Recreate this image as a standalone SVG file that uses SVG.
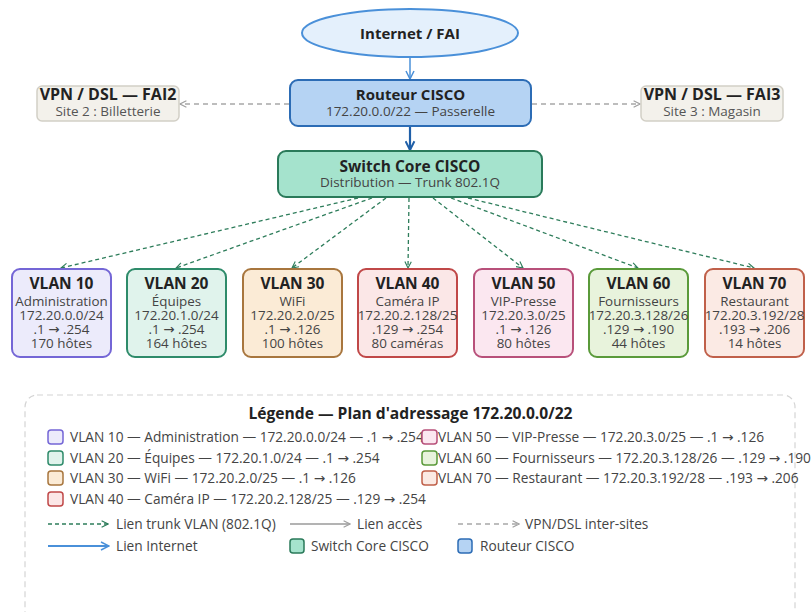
<svg xmlns="http://www.w3.org/2000/svg" width="811" height="612" viewBox="0 0 811 612">
<defs>
<style>
text{font-family:"Open Sans","Noto Sans","DejaVu Sans",sans-serif;}
.t{font-size:15px;font-weight:700;fill:#222;text-anchor:middle;}
.s{font-size:13.5px;fill:#444;text-anchor:middle;}
.vt{font-size:15.5px;font-weight:700;fill:#222;text-anchor:middle;}
.vs{font-size:13.4px;fill:#444;text-anchor:middle;}
.lg{font-size:13.7px;fill:#444;}
.trunk{stroke:#2e7d5b;stroke-width:1.3;stroke-dasharray:4 3;fill:none;}
.vpn{stroke:#a8a8a8;stroke-width:1.4;stroke-dasharray:5 4;fill:none;}
.vbox{stroke-width:2;}
</style>
<marker id="ag" viewBox="0 0 10 10" refX="9" refY="5" markerWidth="8" markerHeight="8" orient="auto" markerUnits="userSpaceOnUse"><path d="M1,1 L9,5 L1,9" fill="none" stroke="#2e7d5b" stroke-width="1.4"/></marker>
<marker id="agr" viewBox="0 0 10 10" refX="9" refY="5" markerWidth="8" markerHeight="8" orient="auto" markerUnits="userSpaceOnUse"><path d="M1,1 L9,5 L1,9" fill="none" stroke="#a0a0a0" stroke-width="1.4"/></marker>
<marker id="ab" viewBox="0 0 10 10" refX="9" refY="5" markerWidth="10" markerHeight="10" orient="auto" markerUnits="userSpaceOnUse"><path d="M1,1 L9,5 L1,9" fill="none" stroke="#4a90d9" stroke-width="1.5"/></marker>
<marker id="adb" viewBox="0 0 10 10" refX="9" refY="5" markerWidth="11" markerHeight="11" orient="auto" markerUnits="userSpaceOnUse"><path d="M1,1 L9,5 L1,9" fill="none" stroke="#1f5fa8" stroke-width="1.8"/></marker>
</defs>
<rect width="811" height="612" fill="#ffffff"/>

<g id="connectors">
<line x1="410" y1="57" x2="410" y2="79" stroke="#4a90d9" stroke-width="1.5" marker-end="url(#ab)"/>
<line x1="410" y1="127" x2="410" y2="150" stroke="#1f5fa8" stroke-width="2.2" marker-end="url(#adb)"/>
<line x1="289" y1="104" x2="180" y2="104" class="vpn" marker-end="url(#agr)"/>
<line x1="532" y1="104" x2="640" y2="104" class="vpn" marker-end="url(#agr)"/>
<line x1="358" y1="198" x2="61" y2="268" class="trunk" marker-end="url(#ag)"/>
<line x1="372" y1="198" x2="176" y2="268" class="trunk" marker-end="url(#ag)"/>
<line x1="386" y1="198" x2="292" y2="268" class="trunk" marker-end="url(#ag)"/>
<line x1="409" y1="198" x2="408" y2="268" class="trunk" marker-end="url(#ag)"/>
<line x1="433" y1="198" x2="523" y2="268" class="trunk" marker-end="url(#ag)"/>
<line x1="451" y1="198" x2="638" y2="268" class="trunk" marker-end="url(#ag)"/>
<line x1="468" y1="198" x2="754" y2="268" class="trunk" marker-end="url(#ag)"/>
</g>

<g id="internet">
<ellipse cx="410" cy="33" rx="108" ry="24" fill="#e4f0fc" stroke="#4a90d9" stroke-width="2"/>
<text x="410" y="38.5" class="t">Internet / FAI</text>
</g>

<g id="routeur">
<rect x="290" y="80" width="241" height="46" rx="8" fill="#b5d3f3" stroke="#2c6cb5" stroke-width="2"/>
<text x="410.5" y="100" class="t">Routeur CISCO</text>
<text x="410.5" y="116" class="s">172.20.0.0/22 — Passerelle</text>
</g>

<g id="vpn2">
<rect x="37" y="86" width="142" height="35" rx="5" fill="#f3f1eb" stroke="#d2cfc6" stroke-width="1.5"/>
<text x="108" y="100" class="t" style="font-size:16px">VPN / DSL — FAI2</text>
<text x="108" y="115.5" class="s" style="fill:#555">Site 2 : Billetterie</text>
</g>

<g id="vpn3">
<rect x="641" y="86" width="142" height="35" rx="5" fill="#f3f1eb" stroke="#d2cfc6" stroke-width="1.5"/>
<text x="712" y="100" class="t" style="font-size:16px">VPN / DSL — FAI3</text>
<text x="712" y="115.5" class="s" style="fill:#555">Site 3 : Magasin</text>
</g>

<g id="switch">
<rect x="278" y="151" width="264" height="46" rx="8" fill="#a5e3cd" stroke="#2a7a5a" stroke-width="2"/>
<text x="410" y="171.5" class="t" style="font-size:15.5px">Switch Core CISCO</text>
<text x="410" y="187" class="s">Distribution — Trunk 802.1Q</text>
</g>

<g id="vlan10">
<rect x="12" y="269" width="99" height="88" rx="8" class="vbox" fill="#ecebfb" stroke="#7466d6"/>
<text x="61.5" y="289" class="vt">VLAN 10</text>
<text x="61.5" y="306" class="vs">Administration</text>
<text x="61.5" y="320" class="vs">172.20.0.0/24</text>
<text x="61.5" y="334" class="vs">.1 → .254</text>
<text x="61.5" y="348" class="vs">170 hôtes</text>
</g>
<g id="vlan20">
<rect x="127" y="269" width="99" height="88" rx="8" class="vbox" fill="#e0f3ec" stroke="#2e8b6a"/>
<text x="176.5" y="289" class="vt">VLAN 20</text>
<text x="176.5" y="306" class="vs">Équipes</text>
<text x="176.5" y="320" class="vs">172.20.1.0/24</text>
<text x="176.5" y="334" class="vs">.1 → .254</text>
<text x="176.5" y="348" class="vs">164 hôtes</text>
</g>
<g id="vlan30">
<rect x="243" y="269" width="99" height="88" rx="8" class="vbox" fill="#fbebd6" stroke="#a8763e"/>
<text x="292.5" y="289" class="vt">VLAN 30</text>
<text x="292.5" y="306" class="vs">WiFi</text>
<text x="292.5" y="320" class="vs">172.20.2.0/25</text>
<text x="292.5" y="334" class="vs">.1 → .126</text>
<text x="292.5" y="348" class="vs">100 hôtes</text>
</g>
<g id="vlan40">
<rect x="358" y="269" width="99" height="88" rx="8" class="vbox" fill="#fbe7e7" stroke="#c04848"/>
<text x="407.5" y="289" class="vt">VLAN 40</text>
<text x="407.5" y="306" class="vs">Caméra IP</text>
<text x="407.5" y="320" class="vs">172.20.2.128/25</text>
<text x="407.5" y="334" class="vs">.129 → .254</text>
<text x="407.5" y="348" class="vs">80 caméras</text>
</g>
<g id="vlan50">
<rect x="474" y="269" width="99" height="88" rx="8" class="vbox" fill="#fbe7f0" stroke="#b8507a"/>
<text x="523.5" y="289" class="vt">VLAN 50</text>
<text x="523.5" y="306" class="vs">VIP-Presse</text>
<text x="523.5" y="320" class="vs">172.20.3.0/25</text>
<text x="523.5" y="334" class="vs">.1 → .126</text>
<text x="523.5" y="348" class="vs">80 hôtes</text>
</g>
<g id="vlan60">
<rect x="589" y="269" width="99" height="88" rx="8" class="vbox" fill="#e8f3dc" stroke="#5a9a3a"/>
<text x="638.5" y="289" class="vt">VLAN 60</text>
<text x="638.5" y="306" class="vs">Fournisseurs</text>
<text x="638.5" y="320" class="vs">172.20.3.128/26</text>
<text x="638.5" y="334" class="vs">.129 → .190</text>
<text x="638.5" y="348" class="vs">44 hôtes</text>
</g>
<g id="vlan70">
<rect x="705" y="269" width="99" height="88" rx="8" class="vbox" fill="#fbeae4" stroke="#c0604a"/>
<text x="754.5" y="289" class="vt">VLAN 70</text>
<text x="754.5" y="306" class="vs">Restaurant</text>
<text x="754.5" y="320" class="vs">172.20.3.192/28</text>
<text x="754.5" y="334" class="vs">.193 → .206</text>
<text x="754.5" y="348" class="vs">14 hôtes</text>
</g>

<g id="legende">
<rect x="25" y="395" width="770" height="240" rx="12" fill="none" stroke="#d4d4d4" stroke-width="1.2" stroke-dasharray="6 4"/>
<text x="410.5" y="419" class="t" style="font-size:15.6px">Légende — Plan d'adressage 172.20.0.0/22</text>
<text x="70" y="441.5" class="lg">VLAN 10 — Administration — 172.20.0.0/24 — .1 → .254</text>
<rect x="48" y="430" width="15" height="14" rx="3" fill="#ecebfb" stroke="#7466d6" stroke-width="1.5"/>
<rect x="48" y="451" width="15" height="14" rx="3" fill="#e0f3ec" stroke="#2e8b6a" stroke-width="1.5"/>
<text x="70" y="462.5" class="lg">VLAN 20 — Équipes — 172.20.1.0/24 — .1 → .254</text>
<rect x="48" y="471" width="15" height="14" rx="3" fill="#fbebd6" stroke="#a8763e" stroke-width="1.5"/>
<text x="70" y="482.5" class="lg">VLAN 30 — WiFi — 172.20.2.0/25 — .1 → .126</text>
<rect x="48" y="492" width="15" height="14" rx="3" fill="#fbe7e7" stroke="#c04848" stroke-width="1.5"/>
<text x="70" y="503.5" class="lg">VLAN 40 — Caméra IP — 172.20.2.128/25 — .129 → .254</text>
<rect x="422" y="430" width="15" height="14" rx="3" fill="#fbe7f0" stroke="#b8507a" stroke-width="1.5"/>
<text x="438" y="441.5" class="lg">VLAN 50 — VIP-Presse — 172.20.3.0/25 — .1 → .126</text>
<rect x="422" y="451" width="15" height="14" rx="3" fill="#e8f3dc" stroke="#5a9a3a" stroke-width="1.5"/>
<text x="438" y="462.5" class="lg">VLAN 60 — Fournisseurs — 172.20.3.128/26 — .129 → .190</text>
<rect x="422" y="471" width="15" height="14" rx="3" fill="#fbeae4" stroke="#c0604a" stroke-width="1.5"/>
<text x="438" y="482.5" class="lg">VLAN 70 — Restaurant — 172.20.3.192/28 — .193 → .206</text>

<line x1="48" y1="524" x2="108" y2="524" class="trunk" marker-end="url(#ag)"/>
<text x="116" y="528.5" class="lg">Lien trunk VLAN (802.1Q)</text>
<line x1="290" y1="524" x2="350" y2="524" stroke="#9a9a9a" stroke-width="1.3" marker-end="url(#agr)"/>
<text x="357" y="528.5" class="lg">Lien accès</text>
<line x1="458" y1="524" x2="519" y2="524" class="vpn" marker-end="url(#agr)"/>
<text x="525" y="528.5" class="lg">VPN/DSL inter-sites</text>
<line x1="48" y1="546" x2="109" y2="546" stroke="#4a90d9" stroke-width="2" marker-end="url(#ab)"/>
<text x="116" y="550.5" class="lg">Lien Internet</text>
<rect x="290" y="539" width="14" height="14" rx="3" fill="#a5e3cd" stroke="#2a7a5a" stroke-width="1.5"/>
<text x="311" y="550.5" class="lg">Switch Core CISCO</text>
<rect x="458" y="539" width="14" height="14" rx="3" fill="#b5d3f3" stroke="#2c6cb5" stroke-width="1.5"/>
<text x="480" y="550.5" class="lg">Routeur CISCO</text>
</g>
</svg>
